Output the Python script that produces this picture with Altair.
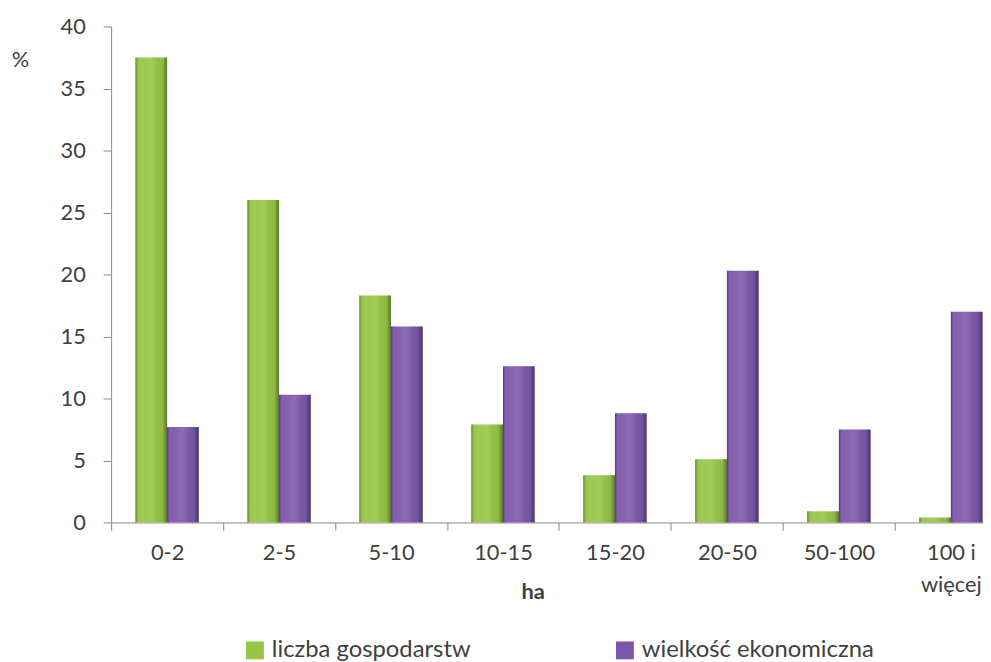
import altair as alt
import pandas as pd

categories = ["0-2", "2-5", "5-10", "10-15", "15-20", "20-50", "50-100", "100 i więcej"]
series_names = ["liczba gospodarstw", "wielkość ekonomiczna"]
liczba_gospodarstw = [37.5, 26.0, 18.3, 7.9, 3.8, 5.1, 0.9, 0.4]
wielkosc_ekonomiczna = [7.7, 10.3, 15.8, 12.6, 8.8, 20.3, 7.5, 17.0]
y_ticks = [0, 5, 10, 15, 20, 25, 30, 35, 40]
colors = ["#96C645", "#7C56AB"]

rows = []
for c, a, b in zip(categories, liczba_gospodarstw, wielkosc_ekonomiczna):
    rows.append({"kat": c, "seria": series_names[0], "wartosc": a})
    rows.append({"kat": c, "seria": series_names[1], "wartosc": b})
df = pd.DataFrame(rows)

FONT = "Lato"
TXT = "#404040"
AX = "#868686"

x_enc = alt.X(
    "kat:N",
    sort=categories,
    scale=alt.Scale(paddingInner=0.434, paddingOuter=0.2165),
    axis=alt.Axis(
        title="ha",
        titleFontWeight="bold",
        titleFontSize=22,
        titleColor=TXT,
        titleX=425,
        titleY=70,
        titleBaseline="middle",
        titleAlign="center",
        labelAngle=0,
        labelFontSize=22,
        labelColor=TXT,
        labelPadding=12,
        labelBaseline="top",
        labelLineHeight=33,
        labelExpr="datum.label == '100 i więcej' ? ['100 i', 'więcej'] : datum.label",
        tickOffset=-56.5,
        labelOffset=56.5,
        tickSize=8,
        tickColor=AX,
        domainColor=AX,
        labelOverlap=False,
        labelBound=False,
        labelFlush=False,
    ),
)
y_enc = alt.Y(
    "wartosc:Q",
    scale=alt.Scale(domain=[0, 40], nice=False),
    axis=alt.Axis(
        title="%",
        titleAngle=0,
        titleX=-92,
        titleY=33,
        titleAlign="center",
        titleBaseline="middle",
        titleFontSize=22,
        titleFontWeight="normal",
        titleColor=TXT,
        values=y_ticks,
        labelFontSize=22,
        labelColor=TXT,
        labelPadding=18,
        tickSize=8,
        tickColor=AX,
        domainColor=AX,
        grid=False,
    ),
)
xo_enc = alt.XOffset("seria:N", sort=series_names, scale=alt.Scale(paddingInner=0, paddingOuter=0))

base = alt.Chart(df).mark_bar().encode(
    x=x_enc,
    y=y_enc,
    xOffset=xo_enc,
    color=alt.Color(
        "seria:N",
        sort=series_names,
        scale=alt.Scale(domain=series_names, range=colors),
        legend=alt.Legend(
            title=None,
            orient="none",
            legendX=133,
            legendY=617,
            direction="horizontal",
            symbolType="square",
            symbolSize=324,
            symbolStrokeWidth=0,
            labelFontSize=24,
            labelColor=TXT,
            labelOffset=5,
            columnPadding=143,
            padding=0,
            labelLimit=400,
        ),
    ),
)

overlay = alt.Chart(df).mark_bar(
    fill=alt.LinearGradient(
        gradient="linear",
        x1=0, x2=1, y1=0, y2=0,
        stops=[
            alt.GradientStop(color="rgba(0,0,0,0.35)", offset=0),
            alt.GradientStop(color="rgba(255,255,255,0.05)", offset=0.15),
            alt.GradientStop(color="rgba(255,255,255,0.12)", offset=0.5),
            alt.GradientStop(color="rgba(0,0,0,0.05)", offset=0.85),
            alt.GradientStop(color="rgba(0,0,0,0.4)", offset=1),
        ],
    )
).encode(x=x_enc, y=y_enc, xOffset=xo_enc)

chart = (
    alt.layer(base, overlay)
    .properties(
        width=903,
        height=500,
        autosize=alt.AutoSizeParams(type="none"),
        padding={"left": 104, "top": 16, "right": -24, "bottom": 138},
    )
    .configure(font=FONT)
    .configure_view(stroke=None)
)

chart.save("out.html", embed_options={"renderer": "svg", "actions": False})
